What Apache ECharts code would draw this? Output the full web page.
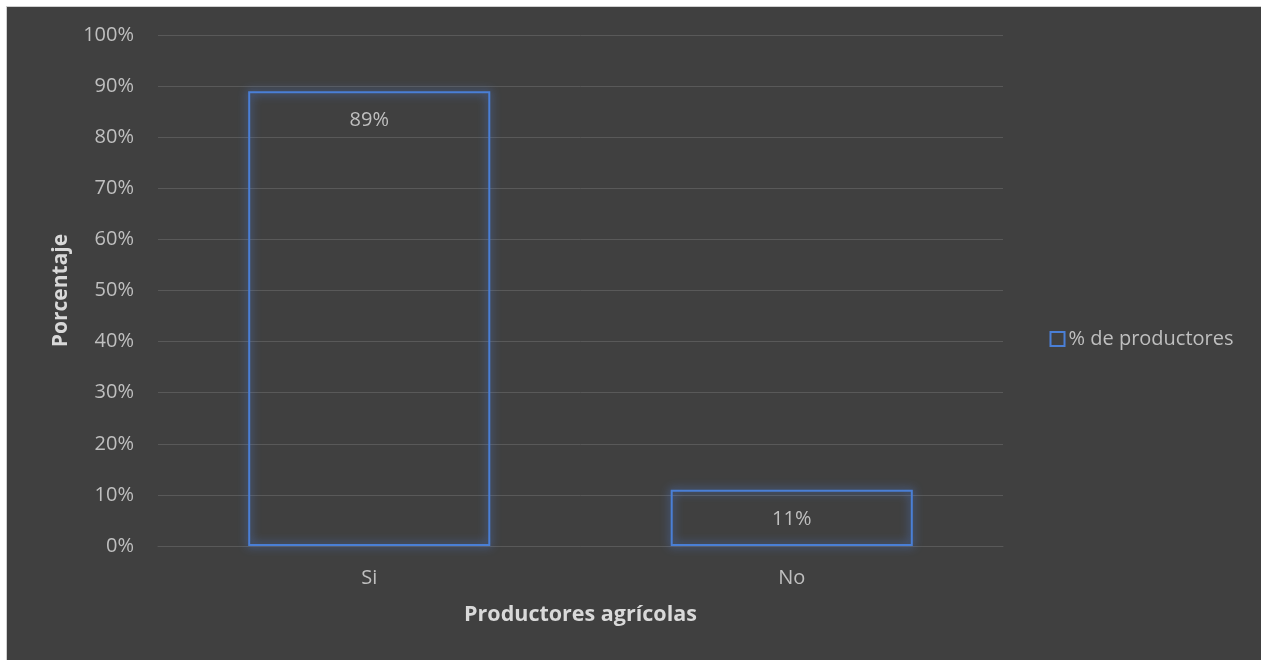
<!DOCTYPE html>
<html>
<head>
<meta charset="utf-8">
<script src="https://cdn.jsdelivr.net/npm/echarts@6/dist/echarts.min.js"></script>
<style>
html,body{margin:0;padding:0;background:#ffffff;width:1261px;height:660px;overflow:hidden;}
#frame{position:absolute;left:6px;top:6px;width:1255px;height:654px;border-left:1px solid #d0d0d0;border-top:1px solid #d0d0d0;box-sizing:border-box;background:#404040;}
#chart{position:absolute;left:0;top:0;width:1261px;height:660px;}
</style>
</head>
<body>
<div id="frame"></div>
<div id="chart"></div>
<script>
const categories = ['Si', 'No'];
const seriesName = '% de productores';
const values = [89, 11];
const yTicks = [0, 10, 20, 30, 40, 50, 60, 70, 80, 90, 100];
const xAxisTitle = 'Productores agrícolas';
const yAxisTitle = 'Porcentaje';

const font = '"Open Sans", "Noto Sans", sans-serif';
const chart = echarts.init(document.getElementById('chart'), null, {renderer: 'canvas'});
chart.setOption({
  backgroundColor: 'transparent',
  animation: false,
  grid: {left: 158, right: 258, top: 35, bottom: 114, containLabel: false},
  legend: {
    data: [seriesName],
    left: 1043, top: 324,
    icon: 'rect', itemWidth: 14, itemHeight: 14, itemGap: 4,
    textStyle: {color: '#bfbfbf', fontSize: 20, fontFamily: font, padding: [0,0,0,-1]}
  },
  xAxis: {
    type: 'category',
    data: categories,
    name: xAxisTitle,
    nameLocation: 'middle',
    nameGap: 58,
    nameTextStyle: {color: '#d9d9d9', fontSize: 21.5, fontWeight: 'bold', fontFamily: font},
    axisLine: {show: true, lineStyle: {color: '#595959', width: 1}},
    axisTick: {show: false},
    axisLabel: {color: '#bfbfbf', fontSize: 20, fontFamily: font, margin: 22}
  },
  yAxis: {
    type: 'value',
    min: yTicks[0], max: yTicks[yTicks.length - 1], interval: 10,
    name: yAxisTitle,
    nameLocation: 'middle',
    nameGap: 86,
    nameRotate: 90,
    nameTextStyle: {color: '#d9d9d9', fontSize: 21, fontWeight: 'bold', fontFamily: font},
    axisLine: {show: false},
    axisTick: {show: false},
    axisLabel: {color: '#bfbfbf', fontSize: 20, fontFamily: font, margin: 24, formatter: v => v + '%'},
    splitLine: {lineStyle: {color: '#595959', width: 1}}
  },
  series: [{
    name: seriesName,
    type: 'bar',
    data: values,
    barWidth: '57.3%',
    itemStyle: {
      color: 'none',
      borderColor: '#4a7fd6',
      borderWidth: 2,
      shadowBlur: 10,
      shadowColor: 'rgba(80,130,225,1)'
    },
    label: {
      show: true,
      position: 'insideTop',
      distance: 21,
      color: '#bfbfbf',
      fontSize: 20,
      fontFamily: font,
      formatter: p => p.value + '%'
    }
  }]
});
</script>
</body>
</html>
